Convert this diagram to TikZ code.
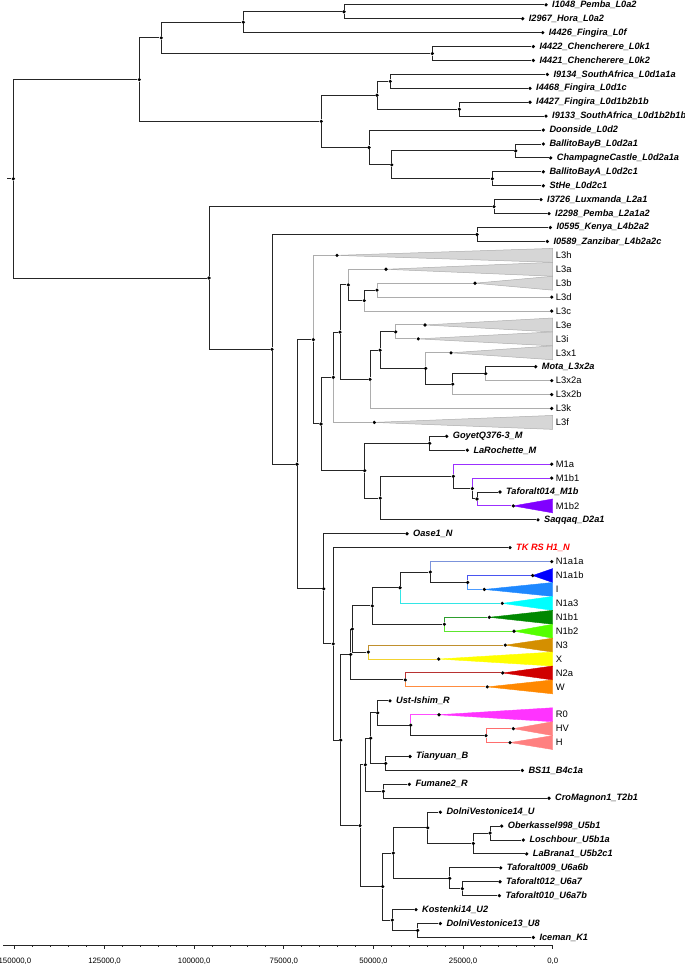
\documentclass[tikz,border=0pt]{standalone}
\usepackage{fontspec}
\setmainfont{Liberation Sans}
\usetikzlibrary{positioning,backgrounds}

\definecolor{branchgrey}{HTML}{262626}
\definecolor{cladegrey}{HTML}{ADADAD}
\definecolor{cladefill}{HTML}{D6D6D6}
\definecolor{mline}{HTML}{9B30FF}   \definecolor{mfill}{HTML}{8000FF}
\definecolor{naaaline}{HTML}{7B93DB}
\definecolor{naabline}{HTML}{4A55F0}\definecolor{naabfill}{HTML}{0000FF}
\definecolor{iline}{HTML}{4D9CFF}   \definecolor{ifill}{HTML}{1E88FF}
\definecolor{naiiiline}{HTML}{33E6E6}\definecolor{naiiifill}{HTML}{00FFFF}
\definecolor{nbiline}{HTML}{2E9E2E} \definecolor{nbifill}{HTML}{008800}
\definecolor{nbiiline}{HTML}{5CE62E}\definecolor{nbiifill}{HTML}{55FF00}
\definecolor{niiiline}{HTML}{C0902E}\definecolor{niiifill}{HTML}{D48F00}
\definecolor{xline}{HTML}{F2D230}   \definecolor{xfill}{HTML}{FFFF00}
\definecolor{niialine}{HTML}{B83232}\definecolor{niiafill}{HTML}{D00000}
\definecolor{wline}{HTML}{FF8C40}   \definecolor{wfill}{HTML}{FF8800}
\definecolor{rzline}{HTML}{FF4DFF}  \definecolor{rzfill}{HTML}{FF33FF}
\definecolor{hline}{HTML}{FF6E6E}   \definecolor{hfill}{HTML}{FF8080}

\tikzset{
  branch/.style={draw=branchgrey,line width=1pt},
  greybranch/.style={draw=cladegrey,line width=1pt},
  tinted/.style={draw=#1,line width=1pt},
  dot/.style={circle,fill=black,inner sep=0pt,minimum size=3.6pt},
  sample/.style={font=\fontsize{9.2}{11}\selectfont\bfseries\itshape,inner sep=0pt},
  cladelab/.style={font=\fontsize{9.4}{11}\selectfont,inner sep=0pt,anchor=west},
  collapsed/.style={fill=cladefill,draw=cladegrey,line width=0.5pt},
  wedge/.style={fill=#1,draw=#1,line width=0.4pt},
  axislab/.style={font=\fontsize{7.8}{9}\selectfont,inner sep=0pt,anchor=base},
}

\begin{document}
\begin{tikzpicture}[x=1pt,y=-13.92pt]
\useasboundingbox (0,-0.345) rectangle (685,68.98);

% tips, one row each
\node[dot] (pemba) at (546,0) {};
\node[dot] (hora) at (522.7,1) {};
\node[dot] (fingf) at (542.7,2) {};
\node[dot] (chenA) at (533.3,3) {};
\node[dot] (chenB) at (533.3,4) {};
\node[dot] (safA) at (547.3,5) {};
\node[dot] (fingc) at (530,6) {};
\node[dot] (fingb) at (530,7) {};
\node[dot] (safB) at (546,8) {};
\node[dot] (doon) at (543.3,9) {};
\node[dot] (ballB) at (543.3,10) {};
\node[dot] (champ) at (550.7,11) {};
\node[dot] (ballA) at (543.3,12) {};
\node[dot] (sthe) at (543.3,13) {};
\node[dot] (luxm) at (541,14) {};
\node[dot] (pembB) at (549,15) {};
\node[dot] (kenya) at (550.3,16) {};
\node[dot] (zanz) at (547.3,17) {};
\node[dot] (Lh) at (337,18) {};
\node[dot] (La) at (386,19) {};
\node[dot] (Lb) at (475,20) {};
\node[dot] (Ld) at (551.7,21) {};
\node[dot] (Lc) at (551.7,22) {};
\node[dot] (Le) at (425,23) {};
\node[dot] (Li) at (418.3,24) {};
\node[dot] (Lxi) at (451,25) {};
\node[dot] (mota) at (535.7,26) {};
\node[dot] (Lxiia) at (551.7,27) {};
\node[dot] (Lxiib) at (551.7,28) {};
\node[dot] (Lk) at (551.7,29) {};
\node[dot] (Lf) at (374.3,30) {};
\node[dot] (goyet) at (446.7,31) {};
\node[dot] (laroc) at (467.3,32) {};
\node[dot] (Mia) at (551.7,33) {};
\node[dot] (Mibi) at (551.7,34) {};
\node[dot] (taf14) at (500,35) {};
\node[dot] (Mibii) at (513.3,36) {};
\node[dot] (saqq) at (538,37) {};
\node[dot] (oase) at (407,38) {};
\node[dot] (tkrs) at (510,39) {};
\node[dot] (Niaia) at (551.7,40) {};
\node[dot] (Niaib) at (532.7,41) {};
\node[dot] (Ihap) at (484.3,42) {};
\node[dot] (Niaiii) at (502.3,43) {};
\node[dot] (Nibi) at (489.3,44) {};
\node[dot] (Nibii) at (514,45) {};
\node[dot] (Niii) at (505.3,46) {};
\node[dot] (Xhap) at (438.7,47) {};
\node[dot] (Niia) at (502.7,48) {};
\node[dot] (Whap) at (487.3,49) {};
\node[dot] (ust) at (390,50) {};
\node[dot] (Rzero) at (439,51) {};
\node[dot] (HVhap) at (513.3,52) {};
\node[dot] (Hhap) at (510,53) {};
\node[dot] (tian) at (410,54) {};
\node[dot] (bs) at (522.3,55) {};
\node[dot] (fum) at (409.3,56) {};
\node[dot] (cro) at (549,57) {};
\node[dot] (dvA) at (440.3,58) {};
\node[dot] (ober) at (501.7,59) {};
\node[dot] (losch) at (523.3,60) {};
\node[dot] (labr) at (526.7,61) {};
\node[dot] (tafA) at (500.7,62) {};
\node[dot] (tafB) at (500,63) {};
\node[dot] (tafC) at (499.3,64) {};
\node[dot] (kost) at (416,65) {};
\node[dot] (dvB) at (440.3,66) {};
\node[dot] (ice) at (533.3,67) {};

% inner nodes
\node[dot] (root) at (13.3,12.5) {};
\coordinate (stub) at (7.3,12.5);
\node[dot] (lzero) at (139.3,5.375) {};
\node[dot] (lzeroaf) at (161.3,2.375) {};
\node[dot] (lzeroa) at (243.3,1.25) {};
\node[dot] (lzeroaii) at (344,0.5) {};
\node[dot] (lzerok) at (432.3,3.5) {};
\node[dot] (lzerod) at (321.3,8.375) {};
\node[dot] (ldone) at (377,6.5) {};
\node[dot] (ldonea) at (390.3,5.5) {};
\node[dot] (ldoneb) at (459.3,7.5) {};
\node[dot] (ldtwo) at (369,10.25) {};
\node[dot] (ldtwox) at (391.7,11.5) {};
\node[dot] (ldtwoa) at (515.7,10.5) {};
\node[dot] (ldtwoc) at (492.3,12.5) {};
\node[dot] (lsix) at (209,19.627) {};
\node[dot] (ltwo) at (494,14.5) {};
\node[dot] (lthreefour) at (272,24.753) {};
\node[dot] (lfour) at (477,16.5) {};
\node[dot] (lthreeN) at (297,33.006) {};
\node[dot] (lthree) at (313.3,24.057) {};
\node[dot] (lthreeT) at (321,30.113) {};
\node[dot] (lthreeU) at (333.3,26.758) {};
\node[dot] (lthreeV) at (340,23.516) {};
\node[dot] (lthreeW) at (348.3,20.125) {};
\node[dot] (lthreeXa) at (364.3,21.25) {};
\node[dot] (lthreeXb) at (377,20.5) {};
\node[dot] (lthreeY) at (370,26.906) {};
\node[dot] (lthreeZ) at (380,24.813) {};
\node[dot] (lthreeZa) at (395.7,23.5) {};
\node[dot] (lthreeZb) at (425.7,26.125) {};
\node[dot] (lthreeZc) at (452.7,27.25) {};
\node[dot] (lthreeZd) at (485.7,26.5) {};
\node[dot] (mroot) at (364.7,33.469) {};
\node[dot] (mgoy) at (429.7,31.5) {};
\node[dot] (mmid) at (380.3,35.438) {};
\node[dot] (mone) at (453.3,33.875) {};
\node[dot] (moneb) at (472.3,34.75) {};
\node[dot] (monebb) at (477,35.5) {};
\node[dot] (nroot) at (323.7,41.955) {};
\node[dot] (nA) at (333.3,45.910) {};
\node[dot] (nB) at (340.7,52.820) {};
\node[dot] (nC) at (350.7,46.672) {};
\node[dot] (nD) at (352.3,44.844) {};
\node[dot] (none) at (372.3,43.188) {};
\node[dot] (nonea) at (400,41.875) {};
\node[dot] (noneai) at (430.3,40.75) {};
\node[dot] (nI) at (467.7,41.5) {};
\node[dot] (noneb) at (444.3,44.5) {};
\node[dot] (nthreex) at (368.3,46.5) {};
\node[dot] (ntwow) at (405.3,48.5) {};
\node[dot] (ru) at (360,58.969) {};
\node[dot] (rC) at (365.3,54.594) {};
\node[dot] (rB) at (370.7,52.688) {};
\node[dot] (rA) at (377.7,50.875) {};
\node[dot] (rzh) at (410.7,51.75) {};
\node[dot] (hvh) at (486,52.5) {};
\node[dot] (tb) at (385.7,54.5) {};
\node[dot] (fc) at (383.3,56.5) {};
\node[dot] (uroot) at (382.7,63.344) {};
\node[dot] (uA) at (393.3,60.938) {};
\node[dot] (ufive) at (427.7,59.125) {};
\node[dot] (ufiveb) at (473.3,60.25) {};
\node[dot] (ufivebi) at (490,59.5) {};
\node[dot] (usix) at (449.7,62.75) {};
\node[dot] (usixa) at (462.3,63.5) {};
\node[dot] (uB) at (392.3,65.75) {};
\node[dot] (ueight) at (417.7,66.5) {};

% sample names
\node[sample,right=4pt of pemba] (pembat) {I1048\_Pemba\_L0a2};
\node[sample,right=4pt of hora] (horat) {I2967\_Hora\_L0a2};
\node[sample,right=4pt of fingf] (fingft) {I4426\_Fingira\_L0f};
\node[sample,right=4pt of chenA] (chenAt) {I4422\_Chencherere\_L0k1};
\node[sample,right=4pt of chenB] (chenBt) {I4421\_Chencherere\_L0k2};
\node[sample,right=4pt of safA] (safAt) {I9134\_SouthAfrica\_L0d1a1a};
\node[sample,right=4pt of fingc] (fingct) {I4468\_Fingira\_L0d1c};
\node[sample,right=4pt of fingb] (fingbt) {I4427\_Fingira\_L0d1b2b1b};
\node[sample,right=4pt of safB] (safBt) {I9133\_SouthAfrica\_L0d1b2b1b};
\node[sample,right=4pt of doon] (doont) {Doonside\_L0d2};
\node[sample,right=4pt of ballB] (ballBt) {BallitoBayB\_L0d2a1};
\node[sample,right=4pt of champ] (champt) {ChampagneCastle\_L0d2a1a};
\node[sample,right=4pt of ballA] (ballAt) {BallitoBayA\_L0d2c1};
\node[sample,right=4pt of sthe] (sthet) {StHe\_L0d2c1};
\node[sample,right=4pt of luxm] (luxmt) {I3726\_Luxmanda\_L2a1};
\node[sample,right=4pt of pembB] (pembBt) {I2298\_Pemba\_L2a1a2};
\node[sample,right=4pt of kenya] (kenyat) {I0595\_Kenya\_L4b2a2};
\node[sample,right=4pt of zanz] (zanzt) {I0589\_Zanzibar\_L4b2a2c};
\node[sample,right=4pt of mota] (motat) {Mota\_L3x2a};
\node[sample,right=4pt of goyet] (goyett) {GoyetQ376-3\_M};
\node[sample,right=4pt of laroc] (laroct) {LaRochette\_M};
\node[sample,right=4pt of taf14] (taf14t) {Taforalt014\_M1b};
\node[sample,right=4pt of saqq] (saqqt) {Saqqaq\_D2a1};
\node[sample,right=4pt of oase] (oaset) {Oase1\_N};
\node[sample,right=4pt of tkrs,text=red] (tkrst) {TK RS H1\_N};
\node[sample,right=4pt of ust] (ustt) {Ust-Ishim\_R};
\node[sample,right=4pt of tian] (tiant) {Tianyuan\_B};
\node[sample,right=4pt of bs] (bst) {BS11\_B4c1a};
\node[sample,right=4pt of fum] (fumt) {Fumane2\_R};
\node[sample,right=4pt of cro] (crot) {CroMagnon1\_T2b1};
\node[sample,right=4pt of dvA] (dvAt) {DolniVestonice14\_U};
\node[sample,right=4pt of ober] (obert) {Oberkassel998\_U5b1};
\node[sample,right=4pt of losch] (loscht) {Loschbour\_U5b1a};
\node[sample,right=4pt of labr] (labrt) {LaBrana1\_U5b2c1};
\node[sample,right=4pt of tafA] (tafAt) {Taforalt009\_U6a6b};
\node[sample,right=4pt of tafB] (tafBt) {Taforalt012\_U6a7};
\node[sample,right=4pt of tafC] (tafCt) {Taforalt010\_U6a7b};
\node[sample,right=4pt of kost] (kostt) {Kostenki14\_U2};
\node[sample,right=4pt of dvB] (dvBt) {DolniVestonice13\_U8};
\node[sample,right=4pt of ice] (icet) {Iceman\_K1};

% clade names
\node[cladelab] (Lht) at (555.7,18) {L3h};
\node[cladelab] (Lat) at (555.7,19) {L3a};
\node[cladelab] (Lbt) at (555.7,20) {L3b};
\node[cladelab] (Ldt) at (555.7,21) {L3d};
\node[cladelab] (Lct) at (555.7,22) {L3c};
\node[cladelab] (Let) at (555.7,23) {L3e};
\node[cladelab] (Lit) at (555.7,24) {L3i};
\node[cladelab] (Lxit) at (555.7,25) {L3x1};
\node[cladelab] (Lxiiat) at (555.7,27) {L3x2a};
\node[cladelab] (Lxiibt) at (555.7,28) {L3x2b};
\node[cladelab] (Lkt) at (555.7,29) {L3k};
\node[cladelab] (Lft) at (555.7,30) {L3f};
\node[cladelab] (Miat) at (555.7,33) {M1a};
\node[cladelab] (Mibit) at (555.7,34) {M1b1};
\node[cladelab] (Mibiit) at (555.7,36) {M1b2};
\node[cladelab] (Niaiat) at (555.7,40) {N1a1a};
\node[cladelab] (Niaibt) at (555.7,41) {N1a1b};
\node[cladelab] (Ihapt) at (555.7,42) {I};
\node[cladelab] (Niaiiit) at (555.7,43) {N1a3};
\node[cladelab] (Nibit) at (555.7,44) {N1b1};
\node[cladelab] (Nibiit) at (555.7,45) {N1b2};
\node[cladelab] (Niiit) at (555.7,46) {N3};
\node[cladelab] (Xhapt) at (555.7,47) {X};
\node[cladelab] (Niiat) at (555.7,48) {N2a};
\node[cladelab] (Whapt) at (555.7,49) {W};
\node[cladelab] (Rzerot) at (555.7,51) {R0};
\node[cladelab] (HVhapt) at (555.7,52) {HV};
\node[cladelab] (Hhapt) at (555.7,53) {H};

\begin{scope}[on background layer]
  % collapsed clades
  \draw[collapsed] (Lh.center) -- (552.7,17.5) -- (552.7,18.5) -- cycle;
  \draw[collapsed] (La.center) -- (552.7,18.5) -- (552.7,19.5) -- cycle;
  \draw[collapsed] (Lb.center) -- (552.7,19.5) -- (552.7,20.5) -- cycle;
  \draw[collapsed] (Le.center) -- (552.7,22.5) -- (552.7,23.5) -- cycle;
  \draw[collapsed] (Li.center) -- (552.7,23.5) -- (552.7,24.5) -- cycle;
  \draw[collapsed] (Lxi.center) -- (552.7,24.5) -- (552.7,25.5) -- cycle;
  \draw[collapsed] (Lf.center) -- (552.7,29.5) -- (552.7,30.5) -- cycle;
  \draw[wedge=mfill] (Mibii.center) -- (552.7,35.5) -- (552.7,36.5) -- cycle;
  \draw[wedge=naabfill] (Niaib.center) -- (552.7,40.5) -- (552.7,41.5) -- cycle;
  \draw[wedge=ifill] (Ihap.center) -- (552.7,41.5) -- (552.7,42.5) -- cycle;
  \draw[wedge=naiiifill] (Niaiii.center) -- (552.7,42.5) -- (552.7,43.5) -- cycle;
  \draw[wedge=nbifill] (Nibi.center) -- (552.7,43.5) -- (552.7,44.5) -- cycle;
  \draw[wedge=nbiifill] (Nibii.center) -- (552.7,44.5) -- (552.7,45.5) -- cycle;
  \draw[wedge=niiifill] (Niii.center) -- (552.7,45.5) -- (552.7,46.5) -- cycle;
  \draw[wedge=xfill] (Xhap.center) -- (552.7,46.5) -- (552.7,47.5) -- cycle;
  \draw[wedge=niiafill] (Niia.center) -- (552.7,47.5) -- (552.7,48.5) -- cycle;
  \draw[wedge=wfill] (Whap.center) -- (552.7,48.5) -- (552.7,49.5) -- cycle;
  \draw[wedge=rzfill] (Rzero.center) -- (552.7,50.5) -- (552.7,51.5) -- cycle;
  \draw[wedge=hfill] (HVhap.center) -- (552.7,51.5) -- (552.7,52.5) -- cycle;
  \draw[wedge=hfill] (Hhap.center) -- (552.7,52.5) -- (552.7,53.5) -- cycle;

  % L0
  \draw[branch] (stub) -- (root);
  \draw[branch] (root) |- (lzero);
  \draw[branch] (root) |- (lsix);
  \draw[branch] (lzero) |- (lzeroaf);
  \draw[branch] (lzero) |- (lzerod);
  \draw[branch] (lzeroaf) |- (lzeroa);
  \draw[branch] (lzeroaf) |- (lzerok);
  \draw[branch] (lzeroa) |- (lzeroaii);
  \draw[branch] (lzeroa) |- (fingf);
  \draw[branch] (lzeroaii) |- (pemba);
  \draw[branch] (lzeroaii) |- (hora);
  \draw[branch] (lzerok) |- (chenA);
  \draw[branch] (lzerok) |- (chenB);
  \draw[branch] (lzerod) |- (ldone);
  \draw[branch] (lzerod) |- (ldtwo);
  \draw[branch] (ldone) |- (ldonea);
  \draw[branch] (ldone) |- (ldoneb);
  \draw[branch] (ldonea) |- (safA);
  \draw[branch] (ldonea) |- (fingc);
  \draw[branch] (ldoneb) |- (fingb);
  \draw[branch] (ldoneb) |- (safB);
  \draw[branch] (ldtwo) |- (doon);
  \draw[branch] (ldtwo) |- (ldtwox);
  \draw[branch] (ldtwox) |- (ldtwoa);
  \draw[branch] (ldtwox) |- (ldtwoc);
  \draw[branch] (ldtwoa) |- (ballB);
  \draw[branch] (ldtwoa) |- (champ);
  \draw[branch] (ldtwoc) |- (ballA);
  \draw[branch] (ldtwoc) |- (sthe);
  % L2 - L6
  \draw[branch] (lsix) |- (ltwo);
  \draw[branch] (lsix) |- (lthreefour);
  \draw[branch] (ltwo) |- (luxm);
  \draw[branch] (ltwo) |- (pembB);
  \draw[branch] (lthreefour) |- (lfour);
  \draw[branch] (lthreefour) |- (lthreeN);
  \draw[branch] (lfour) |- (kenya);
  \draw[branch] (lfour) |- (zanz);
  \draw[branch] (lthreeN) |- (lthree);
  \draw[branch] (lthreeN) |- (nroot);
  % L3
  \draw[greybranch] (lthree) |- (Lh);
  \draw[branch] (lthree) |- (lthreeT);
  \draw[branch] (lthreeT) |- (lthreeU);
  \draw[branch] (lthreeT) |- (mroot);
  \draw[branch] (lthreeU) |- (lthreeV);
  \draw[greybranch] (lthreeU) |- (Lf);
  \draw[branch] (lthreeV) |- (lthreeW);
  \draw[branch] (lthreeV) |- (lthreeY);
  \draw[greybranch] (lthreeW) |- (La);
  \draw[branch] (lthreeW) |- (lthreeXa);
  \draw[branch] (lthreeXa) |- (lthreeXb);
  \draw[greybranch] (lthreeXa) |- (Lc);
  \draw[greybranch] (lthreeXb) |- (Lb);
  \draw[greybranch] (lthreeXb) |- (Ld);
  \draw[branch] (lthreeY) |- (lthreeZ);
  \draw[greybranch] (lthreeY) |- (Lk);
  \draw[branch] (lthreeZ) |- (lthreeZa);
  \draw[branch] (lthreeZ) |- (lthreeZb);
  \draw[greybranch] (lthreeZa) |- (Le);
  \draw[greybranch] (lthreeZa) |- (Li);
  \draw[greybranch] (lthreeZb) |- (Lxi);
  \draw[branch] (lthreeZb) |- (lthreeZc);
  \draw[branch] (lthreeZc) |- (lthreeZd);
  \draw[greybranch] (lthreeZc) |- (Lxiib);
  \draw[branch] (lthreeZd) |- (mota);
  \draw[greybranch] (lthreeZd) |- (Lxiia);
  % M
  \draw[branch] (mroot) |- (mgoy);
  \draw[branch] (mroot) |- (mmid);
  \draw[branch] (mgoy) |- (goyet);
  \draw[branch] (mgoy) |- (laroc);
  \draw[branch] (mmid) |- (mone);
  \draw[branch] (mmid) |- (saqq);
  \draw[tinted=mline] (mone) |- (Mia);
  \draw[branch] (mone) |- (moneb);
  \draw[tinted=mline] (moneb) |- (Mibi);
  \draw[branch] (moneb) |- (monebb);
  \draw[branch] (monebb) |- (taf14);
  \draw[tinted=mline] (monebb) |- (Mibii);
  % N
  \draw[branch] (nroot) |- (oase);
  \draw[branch] (nroot) |- (nA);
  \draw[branch] (nA) |- (tkrs);
  \draw[branch] (nA) |- (nB);
  \draw[branch] (nB) |- (nC);
  \draw[branch] (nB) |- (ru);
  \draw[branch] (nC) |- (nD);
  \draw[branch] (nC) |- (ntwow);
  \draw[branch] (nD) |- (none);
  \draw[branch] (nD) |- (nthreex);
  \draw[branch] (none) |- (nonea);
  \draw[branch] (none) |- (noneb);
  \draw[branch] (nonea) |- (noneai);
  \draw[tinted=naiiiline] (nonea) |- (Niaiii);
  \draw[tinted=naaaline] (noneai) |- (Niaia);
  \draw[branch] (noneai) |- (nI);
  \draw[tinted=naabline] (nI) |- (Niaib);
  \draw[tinted=iline] (nI) |- (Ihap);
  \draw[tinted=nbiline] (noneb) |- (Nibi);
  \draw[tinted=nbiiline] (noneb) |- (Nibii);
  \draw[tinted=niiiline] (nthreex) |- (Niii);
  \draw[tinted=xline] (nthreex) |- (Xhap);
  \draw[tinted=niialine] (ntwow) |- (Niia);
  \draw[tinted=wline] (ntwow) |- (Whap);
  % R
  \draw[branch] (ru) |- (rC);
  \draw[branch] (ru) |- (uroot);
  \draw[branch] (rC) |- (rB);
  \draw[branch] (rC) |- (fc);
  \draw[branch] (rB) |- (rA);
  \draw[branch] (rB) |- (tb);
  \draw[branch] (rA) |- (ust);
  \draw[branch] (rA) |- (rzh);
  \draw[tinted=rzline] (rzh) |- (Rzero);
  \draw[branch] (rzh) |- (hvh);
  \draw[tinted=hline] (hvh) |- (HVhap);
  \draw[tinted=hline] (hvh) |- (Hhap);
  \draw[branch] (tb) |- (tian);
  \draw[branch] (tb) |- (bs);
  \draw[branch] (fc) |- (fum);
  \draw[branch] (fc) |- (cro);
  % U
  \draw[branch] (uroot) |- (uA);
  \draw[branch] (uroot) |- (uB);
  \draw[branch] (uA) |- (ufive);
  \draw[branch] (uA) |- (usix);
  \draw[branch] (ufive) |- (dvA);
  \draw[branch] (ufive) |- (ufiveb);
  \draw[branch] (ufiveb) |- (ufivebi);
  \draw[branch] (ufiveb) |- (labr);
  \draw[branch] (ufivebi) |- (ober);
  \draw[branch] (ufivebi) |- (losch);
  \draw[branch] (usix) |- (tafA);
  \draw[branch] (usix) |- (usixa);
  \draw[branch] (usixa) |- (tafB);
  \draw[branch] (usixa) |- (tafC);
  \draw[branch] (uB) |- (kost);
  \draw[branch] (uB) |- (ueight);
  \draw[branch] (ueight) |- (dvB);
  \draw[branch] (ueight) |- (ice);
\end{scope}

% time axis
\draw[branch] (3.3,67.56) -- (552.7,67.56);
\foreach \m in {0,...,30}
  \draw[branch] (552.7-17.926*\m,67.56) -- ++(0,-2.2pt);
\foreach \k/\yrs in {0/0,1/25000,2/50000,3/75000,4/100000,5/125000,6/150000}{
  \draw[branch] (552.7-89.63*\k,67.56) -- ++(0,-4pt);
  \node[axislab] (tick\k) at (552.7-89.63*\k,68.86) {\yrs,0};
}
\end{tikzpicture}
\end{document}
